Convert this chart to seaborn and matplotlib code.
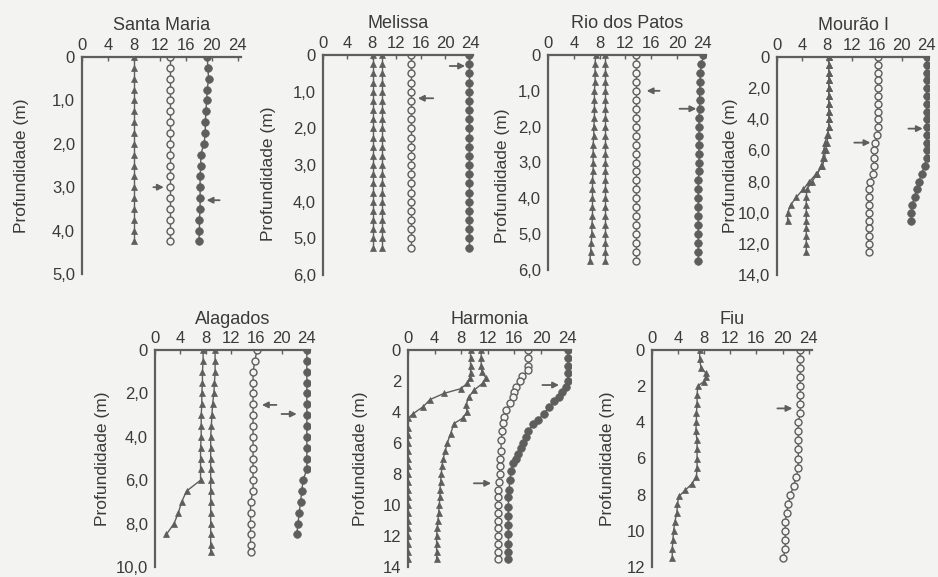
import matplotlib
matplotlib.use("Agg")
import matplotlib.pyplot as plt
import seaborn as sns

# ---------------- data ----------------
XTICKS = [0, 4, 8, 12, 16, 20, 24]
Y_LABEL = "Profundidade (m)"

# Santa Maria
SM_depth = [0, 0.25, 0.5, 0.75, 1.0, 1.25, 1.5, 1.75, 2.0, 2.25, 2.5, 2.75, 3.0, 3.25, 3.5, 3.75, 4.0, 4.25]
SM_tri1 = [8.0] * 18
SM_open = [13.5] * 18
SM_fill = [19.3, 19.4, 19.5, 19.3, 19.2, 19.1, 19.0, 19.0, 18.8, 18.3, 18.3, 18.2, 18.2, 18.2, 18.2, 18.1, 18.1, 18.0]
SM_arrows = [(11.0, 12.6, 3.0), (21.2, 19.2, 3.3)]
SM_yticks = [0, 1, 2, 3, 4, 5]
SM_ylabels = ["0", "1,0", "2,0", "3,0", "4,0", "5,0"]

# Melissa
ME_depth = [0, 0.25, 0.5, 0.75, 1.0, 1.25, 1.5, 1.75, 2.0, 2.25, 2.5, 2.75, 3.0, 3.25, 3.5, 3.75, 4.0, 4.25,
            4.5, 4.75, 5.0, 5.25]
ME_tri1 = [8.1] * 22
ME_tri2 = [9.7] * 22
ME_open = [14.4] * 22
ME_fill = [23.9] * 22
ME_arrows = [(20.7, 23.2, 0.3), (18.0, 15.5, 1.18)]
ME_yticks = [0, 1, 2, 3, 4, 5, 6]
ME_ylabels = ["0", "1,0", "2,0", "3,0", "4,0", "5,0", "6,0"]

# Rio dos Patos
RI_depth = [0, 0.25, 0.5, 0.75, 1.0, 1.25, 1.5, 1.75, 2.0, 2.25, 2.5, 2.75, 3.0, 3.25, 3.5, 3.75, 4.0, 4.25,
            4.5, 4.75, 5.0, 5.25, 5.5, 5.75]
RI_tri1 = [7.4, 7.3, 7.3, 7.3, 7.2, 7.2, 7.2, 7.2, 7.1, 7.1, 7.0, 7.0, 7.0, 7.0, 6.9, 6.9, 6.9, 6.9, 6.9, 6.8,
           6.8, 6.7, 6.6, 6.5]
RI_tri2 = [8.8] * 24
RI_open = [13.7] * 24
RI_fill = [24.1, 23.8, 23.6, 23.6, 23.5, 23.5, 23.5, 23.4, 23.4, 23.4, 23.4, 23.4, 23.4, 23.4, 23.3, 23.3, 23.3,
           23.3, 23.3, 23.3, 23.3, 23.3, 23.3, 23.3]
RI_arrows = [(17.3, 15.3, 1.0), (20.4, 23.0, 1.5)]
RI_yticks = [0, 1, 2, 3, 4, 5, 6]
RI_ylabels = ["0", "1,0", "2,0", "3,0", "4,0", "5,0", "6,0"]

# Mourao I
MO_depth_long = [0, 0.5, 1.0, 1.5, 2.0, 2.5, 3.0, 3.5, 4.0, 4.5, 5.0, 5.5, 6.0, 6.5, 7.0, 7.5, 8.0, 8.5, 9.0,
                 9.5, 10.0, 10.5, 11.0, 11.5, 12.0, 12.5]
MO_depth_short = [0, 0.5, 1.0, 1.5, 2.0, 2.5, 3.0, 3.5, 4.0, 4.5, 5.0, 5.5, 6.0, 6.5, 7.0, 7.5, 8.0, 8.5, 9.0,
                  9.5, 10.0, 10.5]
MO_tri1 = [8.3] * 10 + [8.2, 8.0, 7.8, 7.6, 7.3, 6.3, 5.2, 4.2, 3.1, 2.2, 1.7, 1.7]
MO_tri2 = [8.3] * 10 + [8.1, 7.7, 7.5, 7.4, 7.1, 6.5, 5.6, 4.8] + [4.7] * 8
MO_open = [16.2] * 10 + [16.1, 15.8, 15.6, 15.6, 15.5, 15.4, 15.0, 14.7] + [14.7] * 8
MO_fill = [24.0] * 14 + [23.7, 23.2, 22.8, 22.4, 22.1, 21.7, 21.5, 21.5]
MO_arrows = [(21.1, 23.4, 4.6), (12.4, 15.0, 5.5)]
MO_yticks = [0, 2, 4, 6, 8, 10, 12, 14]
MO_ylabels = ["0", "2,0", "4,0", "6,0", "8,0", "10,0", "12,0", "14,0"]

# Alagados
AL_depth_short = [0, 0.5, 1.0, 1.5, 2.0, 2.5, 3.0, 3.5, 4.0, 4.5, 5.0, 5.5, 6.0, 6.5, 7.0, 7.5, 8.0, 8.5]
AL_depth_long = [0, 0.5, 1.0, 1.5, 2.0, 2.5, 3.0, 3.5, 4.0, 4.5, 5.0, 5.5, 6.0, 6.5, 7.0, 7.5, 8.0, 8.5, 9.0, 9.3]
AL_tri1 = [7.6, 7.6, 7.5, 7.5, 7.4, 7.4, 7.3, 7.3, 7.3, 7.2, 7.2, 7.2, 7.2, 5.0, 4.2, 3.7, 3.0, 1.8]
AL_tri2 = [9.5, 9.5, 9.5, 9.4, 9.3, 9.1, 9.0, 8.9] + [8.8] * 12
AL_open = [16.1, 15.8] + [15.5] * 12 + [15.1] * 6
AL_fill = [24.0] * 12 + [23.4, 23.2, 23.0, 22.8, 22.6, 22.4]
AL_arrows = [(19.2, 16.9, 2.53), (20.0, 22.4, 2.95)]
AL_yticks = [0, 2, 4, 6, 8, 10]
AL_ylabels = ["0", "2,0", "4,0", "6,0", "8,0", "10,0"]

# Harmonia
HA_tri1_depth = [0, 0.5, 1.0, 1.5, 1.8, 2.15, 2.5, 2.8, 3.2, 3.65, 4.1, 4.4, 5.0, 5.5, 6.0, 6.5, 7.0, 7.5, 8.0,
                 8.5, 9.0, 9.5, 10.0, 10.5, 11.0, 11.5, 12.0, 12.5, 13.0, 13.5]
HA_tri1 = [9.4, 9.4, 9.4, 9.4, 9.3, 8.9, 7.9, 5.4, 3.3, 2.3, 0.8, 0.0] + [0.0] * 18
HA_tri2_depth = [0, 0.5, 1.0, 1.4, 1.8, 2.15, 2.6, 3.0, 3.55, 4.0, 4.4, 4.75, 5.4, 6.0, 6.5, 7.0, 7.5, 8.0, 8.5,
                 9.0, 9.5, 10.0, 10.5, 11.0, 11.5, 12.0, 12.5, 13.0, 13.5]
HA_tri2 = [11.0, 11.0, 11.0, 11.1, 11.7, 11.2, 9.9, 9.2, 8.7, 8.9, 8.2, 6.9, 6.4, 5.9, 5.6, 5.3, 5.1, 5.0, 4.9,
           4.8, 4.8, 4.7, 4.6, 4.5, 4.4, 4.3, 4.3, 4.3, 4.3]
HA_open_depth = [0, 0.5, 1.0, 1.3, 1.7, 2.0, 2.4, 2.7, 3.0, 3.4, 3.9, 4.3, 4.7, 5.2, 5.8, 6.5, 7.0, 7.5, 8.0,
                 8.5, 9.0, 9.5, 10.0, 10.5, 11.0, 11.5, 12.0, 12.5, 13.0, 13.5]
HA_open = [18.1, 18.1, 18.1, 18.1, 17.1, 16.8, 16.3, 16.0, 15.8, 15.4, 14.8, 14.5, 14.3, 14.2, 14.0, 14.0, 13.9,
           13.8, 13.8, 13.7, 13.6] + [13.5] * 9
HA_fill_depth = [0, 0.5, 1.0, 1.5, 2.0, 2.4, 2.7, 3.0, 3.3, 3.7, 4.1, 4.5, 4.8, 5.2, 5.6, 6.0, 6.3, 6.7, 7.0,
                 7.3, 7.8, 8.4, 9.0, 9.5, 10.1, 10.7, 11.3, 11.9, 12.5, 13.0, 13.5]
HA_fill = [24.0, 24.0, 24.0, 24.0, 24.0, 23.7, 23.2, 22.7, 22.0, 21.2, 20.4, 19.6, 18.8, 18.1, 17.7, 17.3, 17.0,
           16.6, 16.3, 15.8, 15.5, 15.3, 15.2, 15.1] + [15.1] * 7
HA_arrows = [(20.2, 22.7, 2.26), (9.9, 12.5, 8.6)]
HA_yticks = [0, 2, 4, 6, 8, 10, 12, 14]
HA_ylabels = ["0", "2", "4", "6", "8", "10", "12", "14"]

# Fiu
FI_tri_depth = [0, 0.5, 1.0, 1.25, 1.5, 1.75, 2.0, 2.5, 3.0, 3.5, 4.0, 4.5, 5.0, 5.5, 6.0, 6.5, 7.0, 7.4, 7.75,
                8.1, 8.5, 9.0, 9.5, 10.0, 10.5, 11.0, 11.5]
FI_tri1 = [7.3, 7.3, 7.5, 8.2, 8.3, 7.9, 7.0, 6.9, 6.9, 6.8, 6.8, 6.7, 6.9, 6.9, 6.9, 6.9, 6.8, 6.1, 5.1, 4.1,
           3.9, 3.8, 3.5, 3.3, 3.2, 3.1, 3.1]
FI_open_depth = [0, 0.5, 1.0, 1.5, 2.0, 2.5, 3.0, 3.5, 4.0, 4.5, 5.0, 5.5, 6.0, 6.5, 7.0, 7.5, 8.0, 8.5, 9.0,
                 9.5, 10.0, 10.5, 11.0, 11.5]
FI_open = [22.7] * 8 + [22.4] * 6 + [22.1, 21.7, 21.2, 20.9, 20.6] + [20.4] * 4 + [20.1]
FI_arrows = [(19.2, 21.5, 3.23)]
FI_yticks = [0, 2, 4, 6, 8, 10, 12]
FI_ylabels = ["0", "2", "4", "6", "8", "10", "12"]

# ---------------- style ----------------
sns.set_style("white")
plt.rcParams["font.family"] = ["Liberation Sans", "DejaVu Sans"]

BG = "#f3f3f1"
INK = "#3a3a3a"
GREY = "#5e5e5e"
W, H = 938, 577

fig = plt.figure(figsize=(W / 100, H / 100), dpi=100, facecolor=BG)


def make_axes(rect, xmax, ymax, yticks, ylabels, title, label_dx, label_y=0.5):
    l, t, r, b = rect
    wpx, hpx = r - l, b - t
    ax = fig.add_axes([l / W, 1 - b / H, wpx / W, hpx / H])
    ax.set_facecolor("none")
    ax.set_xlim(0, xmax)
    ax.set_ylim(ymax, 0)
    ax.xaxis.tick_top()
    ax.set_xticks(XTICKS)
    ax.set_xticklabels([str(v) for v in XTICKS])
    ax.set_yticks(yticks)
    ax.set_yticklabels(ylabels)
    ax.tick_params(axis="x", direction="in", length=3, width=1, pad=3, labelsize=12,
                   color=GREY, labelcolor=INK, top=True, bottom=False)
    ax.tick_params(axis="y", direction="in", length=3, width=1, pad=5, labelsize=12,
                   color=GREY, labelcolor=INK)
    for s in ("right", "bottom"):
        ax.spines[s].set_visible(False)
    for s in ("left", "top"):
        ax.spines[s].set_color(GREY)
        ax.spines[s].set_linewidth(1.6)
    ax.set_ylabel(Y_LABEL, fontsize=12.5, color=INK)
    ax.yaxis.set_label_coords(-(label_dx - 8) / wpx, label_y)
    ax.set_xlabel("")
    ax.text(0.5, 1 + 31 / hpx, title, transform=ax.transAxes, ha="center", va="center",
            fontsize=13, color=INK)
    return ax


def tri(ax, x, y):
    sns.lineplot(x=x, y=y, ax=ax, sort=False, estimator=None, orient="y", color=GREY, lw=1,
                 marker="^", markersize=4.5, markerfacecolor=GREY, markeredgecolor=GREY,
                 markeredgewidth=0.5, legend=False)


def opn(ax, x, y):
    sns.lineplot(x=x, y=y, ax=ax, sort=False, estimator=None, orient="y", color=GREY, lw=1,
                 marker="o", markersize=5, markerfacecolor=BG, markeredgecolor=GREY,
                 markeredgewidth=1.0, legend=False)


def fil(ax, x, y):
    sns.lineplot(x=x, y=y, ax=ax, sort=False, estimator=None, orient="y", color=GREY, lw=1,
                 marker="o", markersize=5.5, markerfacecolor=GREY, markeredgecolor=GREY,
                 markeredgewidth=0.5, legend=False)


def arrows(ax, arr):
    for tail, head, d in arr:
        ax.annotate("", xy=(head, d), xytext=(tail, d),
                    arrowprops=dict(arrowstyle="-|>", color=GREY, lw=1.3, mutation_scale=9,
                                    shrinkA=0, shrinkB=0),
                    annotation_clip=False)


# Santa Maria
ax = make_axes((82, 57, 241, 274), 24.5, 5, SM_yticks, SM_ylabels, "Santa Maria", 61)
tri(ax, SM_tri1, SM_depth)
opn(ax, SM_open, SM_depth)
fil(ax, SM_fill, SM_depth)
arrows(ax, SM_arrows)

# Melissa
ax = make_axes((323, 55, 473, 275), 24.5, 6, ME_yticks, ME_ylabels, "Melissa", 55, 0.46)
tri(ax, ME_tri1, ME_depth)
tri(ax, ME_tri2, ME_depth)
opn(ax, ME_open, ME_depth)
fil(ax, ME_fill, ME_depth)
arrows(ax, ME_arrows)

# Rio dos Patos
ax = make_axes((548, 55, 706, 270), 24.5, 6, RI_yticks, RI_ylabels, "Rio dos Patos", 46, 0.44)
tri(ax, RI_tri1, RI_depth)
tri(ax, RI_tri2, RI_depth)
opn(ax, RI_open, RI_depth)
fil(ax, RI_fill, RI_depth)
arrows(ax, RI_arrows)

# Mourao I
ax = make_axes((777, 57, 929, 275), 24.4, 14, MO_yticks, MO_ylabels, "Mourão I", 47)
tri(ax, MO_tri1, MO_depth_short)
tri(ax, MO_tri2, MO_depth_long)
opn(ax, MO_open, MO_depth_long)
fil(ax, MO_fill, MO_depth_short)
arrows(ax, MO_arrows)

# Alagados
ax = make_axes((155, 350, 310, 567), 24.5, 10, AL_yticks, AL_ylabels, "Alagados", 53)
tri(ax, AL_tri1, AL_depth_short)
tri(ax, AL_tri2, AL_depth_long)
opn(ax, AL_open, AL_depth_long)
fil(ax, AL_fill, AL_depth_short)
arrows(ax, AL_arrows)

# Harmonia
ax = make_axes((408, 350, 571, 567), 24.5, 14, HA_yticks, HA_ylabels, "Harmonia", 48)
tri(ax, HA_tri1, HA_tri1_depth)
tri(ax, HA_tri2, HA_tri2_depth)
opn(ax, HA_open, HA_open_depth)
fil(ax, HA_fill, HA_fill_depth)
arrows(ax, HA_arrows)

# Fiu
ax = make_axes((652, 350, 812, 567), 24.5, 12, FI_yticks, FI_ylabels, "Fiu", 45)
tri(ax, FI_tri1, FI_tri_depth)
opn(ax, FI_open, FI_open_depth)
arrows(ax, FI_arrows)

fig.savefig("out.png", dpi=100, facecolor=BG)
